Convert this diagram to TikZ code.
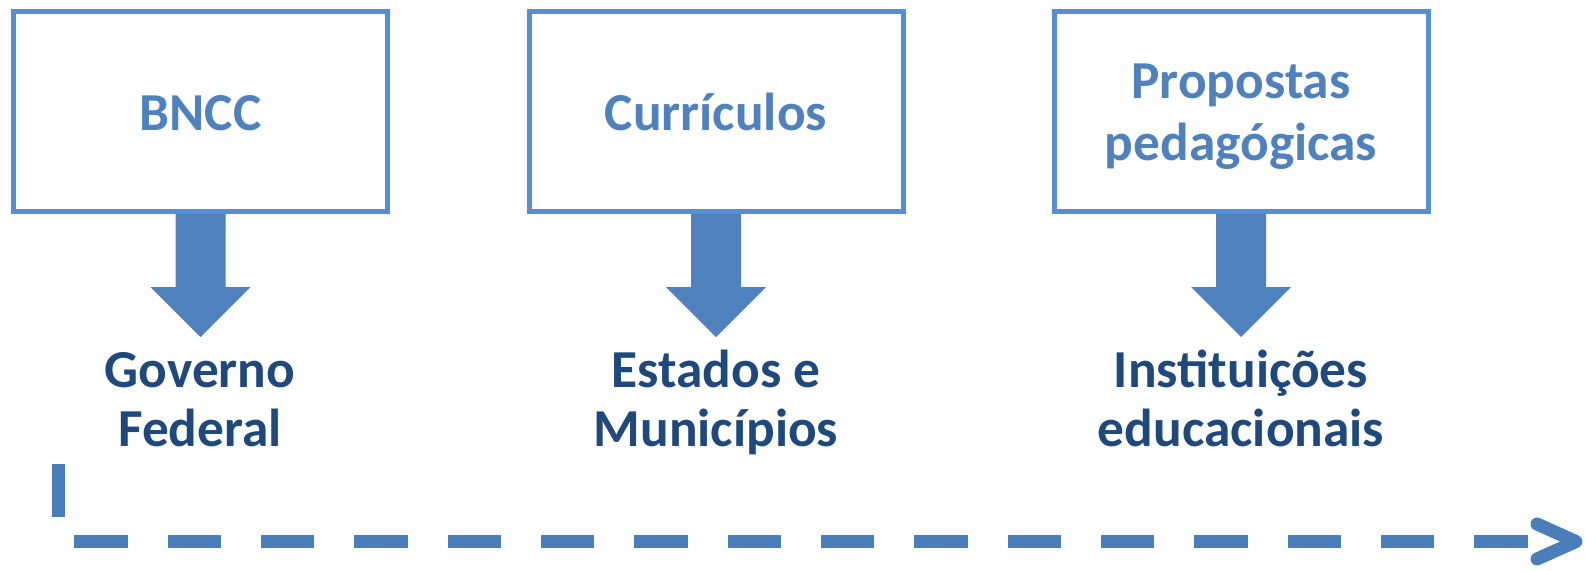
\documentclass[tikz,border=0pt]{standalone}
\usepackage{fontspec}
\setmainfont{Carlito}
\usetikzlibrary{calc}
\definecolor{boxline}{RGB}{85,142,213}
\definecolor{boxtext}{RGB}{79,129,189}
\definecolor{blockfill}{RGB}{79,129,189}
\definecolor{labeltext}{RGB}{31,73,125}
\definecolor{dashcol}{RGB}{74,126,187}
\begin{document}
\begin{tikzpicture}[x=0.5pt,y=-0.5pt,
  stagebox/.style={draw=boxline, line width=2.5pt, minimum width=187pt, minimum height=100pt, inner sep=0pt},
  boxlabel/.style={font=\fontsize{26.7}{31}\selectfont\bfseries, text=boxtext, align=center, anchor=base, inner sep=0pt},
  lowlabel/.style={font=\fontsize{26.7}{29.5}\selectfont\bfseries, text=labeltext, align=center, anchor=base, inner sep=0pt},
  blockarrow/.style={fill=blockfill},
  timeline/.style={draw=dashcol, line width=6.5pt, dash pattern=on 26.67pt off 20pt},
  timehead/.style={draw=dashcol, line width=6.5pt, line cap=round, line join=round}]
\useasboundingbox[fill=white] (0,0) rectangle (1585,570);

% boxes
\node[stagebox] (b1) at (200.5,111.5) {};
\node[stagebox] (b2) at (716,111.5) {};
\node[stagebox] (b3) at (1241,111.5) {};

% box texts (base anchor = baseline of last line)
\node[boxlabel] (t1) at (200.5,130) {BNCC};
\node[boxlabel] (t2) at (716,130) {Currículos};
\node[boxlabel] (t3) at (1241,160) {Propostas\\pedagógicas};

% lower labels
\node[lowlabel] (g1) at (200,446) {Governo\\Federal};
\node[lowlabel] (g2) at (716,446) {Estados e\\Municípios};
\node[lowlabel] (g3) at (1241,446) {Instituições\\educacionais};

% block arrows
\foreach \b in {b1,b2,b3}{
  \fill[blockarrow] ([xshift=-12.5pt]\b.south) -- ([xshift=12.5pt]\b.south)
    -- ([xshift=12.5pt,yshift=-36.5pt]\b.south) -- ([xshift=25pt,yshift=-36.5pt]\b.south)
    -- ([yshift=-61.5pt]\b.south) -- ([xshift=-25pt,yshift=-36.5pt]\b.south)
    -- ([xshift=-12.5pt,yshift=-36.5pt]\b.south) -- cycle;
}

% timeline
\coordinate (ts) at (58.5,464);
\coordinate (te) at (1560,541.5);
\coordinate (tip) at (1576,541.5);
\draw[timeline] (ts) |- (te);
\draw[timehead] ([shift={(-39,-17.5)}]tip) -- (tip) -- ([shift={(-39,17.5)}]tip);
\end{tikzpicture}
\end{document}
